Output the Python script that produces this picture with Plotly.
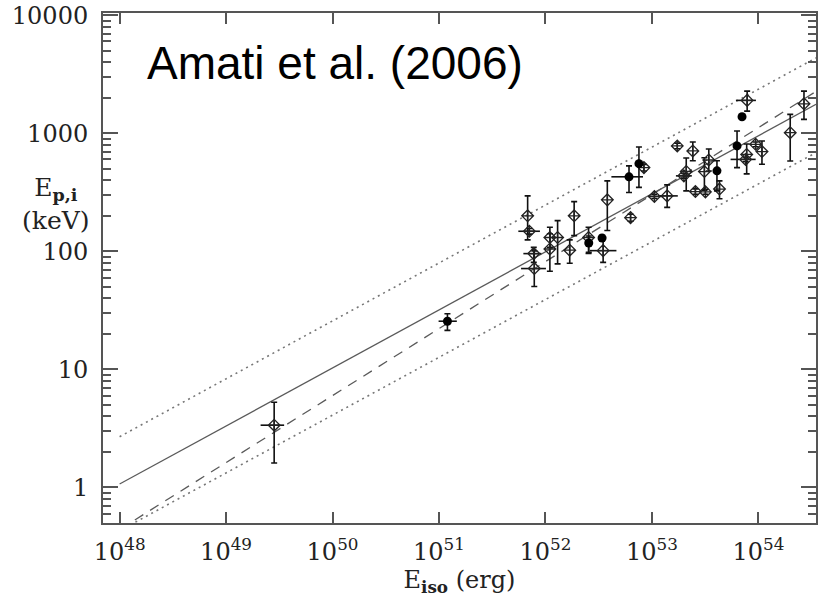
import plotly.graph_objects as go

# ---------------- data (Eiso in 1e52 erg, Ep,i in keV) ----------------
open_E    = [0.00283, 0.68, 0.705, 0.776, 0.785, 1.10, 1.10, 1.30, 1.69, 1.86, 2.54, 3.48, 3.81,
             6.30, 8.41, 10.55, 13.9, 17.3, 19.95, 21.0, 24.2, 25.6, 31.1, 31.8, 34.2, 43.1,
             78.4, 77.6, 75.9, 94.2, 108, 199, 268]
open_Elo  = [0.00211, 0.68, 0.556, 0.62, 0.59, 1.10, 1.10, 1.30, 1.69, 1.86, 2.54, 2.61, 3.81,
             6.30, 8.41, 9.16, 11.4, 17.3, 16.8, 21.0, 24.2, 25.6, 31.1, 31.8, 34.2, 43.1,
             61.5, 77.6, 54.8, 94.2, 108, 199, 268]
open_Ehi  = [0.00351, 0.68, 0.887, 0.914, 1.01, 1.10, 1.10, 1.30, 1.69, 1.86, 2.54, 4.64, 3.81,
             6.30, 8.41, 12.7, 17.5, 17.3, 23.7, 21.0, 24.2, 25.6, 31.1, 31.8, 34.2, 43.1,
             94.8, 77.6, 94.2, 94.2, 108, 199, 268]
open_Ep   = [3.37, 200, 148, 95.7, 71.5, 131, 104.7, 131, 102.3, 200, 131, 101.4, 273,
             193, 512, 292, 295, 782, 436, 475, 709, 321, 474, 319, 594, 337,
             1900, 662, 601, 807, 700, 1012, 1778]
open_Eplo = [1.61, 125, 140, 80.7, 50.4, 108, 67.8, 78.3, 79.3, 136, 96, 80.7, 150,
             180, 480, 280, 236, 740, 415, 325, 585, 305, 330, 305, 480, 279,
             1542, 453, 575, 770, 547, 583, 1313]
open_Ephi = [5.27, 295, 156, 108, 101, 160, 141, 182, 125, 264, 160, 131, 395,
             206, 545, 305, 366, 825, 458, 618, 845, 338, 620, 335, 736, 395,
             2275, 812, 628, 845, 861, 1446, 2275]

fill_E    = [0.120, 2.55, 3.40, 6.09, 7.55, 40.8, 63.0, 70.2]
fill_Elo  = [0.0991, 2.55, 3.40, 4.16, 7.55, 40.8, 63.0, 70.2]
fill_Ehi  = [0.147, 2.55, 3.40, 8.24, 7.55, 40.8, 63.0, 70.2]
fill_Ep   = [25.6, 117.8, 129.8, 428, 553, 481, 782, 1381]
fill_Eplo = [21.4, 98, 124, 315, 348, 325, 512, 1381]
fill_Ephi = [29.6, 135, 136, 530, 766, 585, 1046, 1381]

# correlation lines (end points, erg / keV)
line_x        = [1e48, 3.48e54]
fit_solid_y   = [1.07, 1760]
fit_dashed_y  = [0.44, 2265]
upper_dot_y   = [2.69, 4355]
lower_dot_y   = [0.43, 686]

x_tickvals = [1e48, 1e49, 1e50, 1e51, 1e52, 1e53, 1e54]
x_ticktext = ["10<sup>48</sup>", "10<sup>49</sup>", "10<sup>50</sup>", "10<sup>51</sup>",
              "10<sup>52</sup>", "10<sup>53</sup>", "10<sup>54</sup>"]
y_tickvals = [1, 10, 100, 1000, 10000]
y_ticktext = ["1", "10", "100", "1000", "10000"]

# ---------------------------------------------------------------------
S = 1e52
oE = [v * S for v in open_E]
fE = [v * S for v in fill_E]

def errs(v, lo, hi):
    return [h - x for x, h in zip(v, hi)], [x - l for x, l in zip(v, lo)]

o_xp, o_xm = errs(oE, [v * S for v in open_Elo], [v * S for v in open_Ehi])
o_yp, o_ym = errs(open_Ep, open_Eplo, open_Ephi)
f_xp, f_xm = errs(fE, [v * S for v in fill_Elo], [v * S for v in fill_Ehi])
f_yp, f_ym = errs(fill_Ep, fill_Eplo, fill_Ephi)

fig = go.Figure()
lc = "#5a5a5a"
fig.add_trace(go.Scatter(x=line_x, y=upper_dot_y, mode="lines",
                         line=dict(color="#777", width=1.6, dash="2px,4px"), hoverinfo="skip"))
fig.add_trace(go.Scatter(x=line_x, y=lower_dot_y, mode="lines",
                         line=dict(color="#777", width=1.6, dash="2px,4px"), hoverinfo="skip"))
fig.add_trace(go.Scatter(x=line_x, y=fit_dashed_y, mode="lines",
                         line=dict(color=lc, width=1.3, dash="10px,8px"), hoverinfo="skip"))
fig.add_trace(go.Scatter(x=line_x, y=fit_solid_y, mode="lines",
                         line=dict(color=lc, width=1.3), hoverinfo="skip"))

eb = dict(color="#111", thickness=1.6)
fig.add_trace(go.Scatter(
    x=oE, y=open_Ep, mode="markers",
    marker=dict(symbol="diamond-cross-open", size=9, color="#222", line=dict(width=1.3)),
    error_x=dict(type="data", symmetric=False, array=o_xp, arrayminus=o_xm, width=0, **eb),
    error_y=dict(type="data", symmetric=False, array=o_yp, arrayminus=o_ym, width=3, **eb),
))
fig.add_trace(go.Scatter(
    x=fE, y=fill_Ep, mode="markers",
    marker=dict(symbol="circle", size=9, color="#000"),
    error_x=dict(type="data", symmetric=False, array=f_xp, arrayminus=f_xm, width=0, **eb),
    error_y=dict(type="data", symmetric=False, array=f_yp, arrayminus=f_ym, width=3, **eb),
))

axis_common = dict(type="log", showline=True, linecolor="#555", linewidth=2, mirror="ticks",
                   ticks="inside", tickcolor="#555", tickwidth=1.5, showgrid=False, zeroline=False,
                   tickfont=dict(family="DejaVu Serif", size=24, color="#222"))

minor_y = [k * 10 ** n for n in range(-1, 4) for k in range(2, 10) if 0.5 <= k * 10 ** n <= 10450]

fig.update_xaxes(**axis_common, range=[47.844, 54.541], tickmode="array",
                 tickvals=x_tickvals, ticktext=x_ticktext, ticklen=11, ticklabelstandoff=6,
                 title=dict(text="E<sub><b>iso</b></sub> (erg)",
                            font=dict(family="DejaVu Serif", size=24, color="#222"), standoff=2))
fig.update_yaxes(**axis_common, range=[-0.301, 4.019], tickmode="array",
                 tickvals=y_tickvals, ticktext=y_ticktext, ticklen=15, ticklabelstandoff=8,
                 minor=dict(tickmode="array", tickvals=minor_y, ticks="inside", ticklen=8,
                            tickcolor="#555", tickwidth=1.5))

fig.add_annotation(text="E<sub><b>p,i</b></sub><br>(keV)", xref="paper", yref="paper",
                   x=-0.066, y=0.626, xanchor="center", yanchor="middle", showarrow=False,
                   font=dict(family="DejaVu Serif", size=25, color="#222"))
fig.add_annotation(text="Amati et al. (2006)", xref="paper", yref="paper",
                   x=0.0583, y=0.9026, xanchor="left", yanchor="middle", showarrow=False,
                   font=dict(family="Liberation Sans", size=46, color="#000"))

fig.update_layout(width=820, height=602, margin=dict(l=103, r=2, t=12, b=79),
                  paper_bgcolor="white", plot_bgcolor="white", showlegend=False)

fig.write_html("out.html")
